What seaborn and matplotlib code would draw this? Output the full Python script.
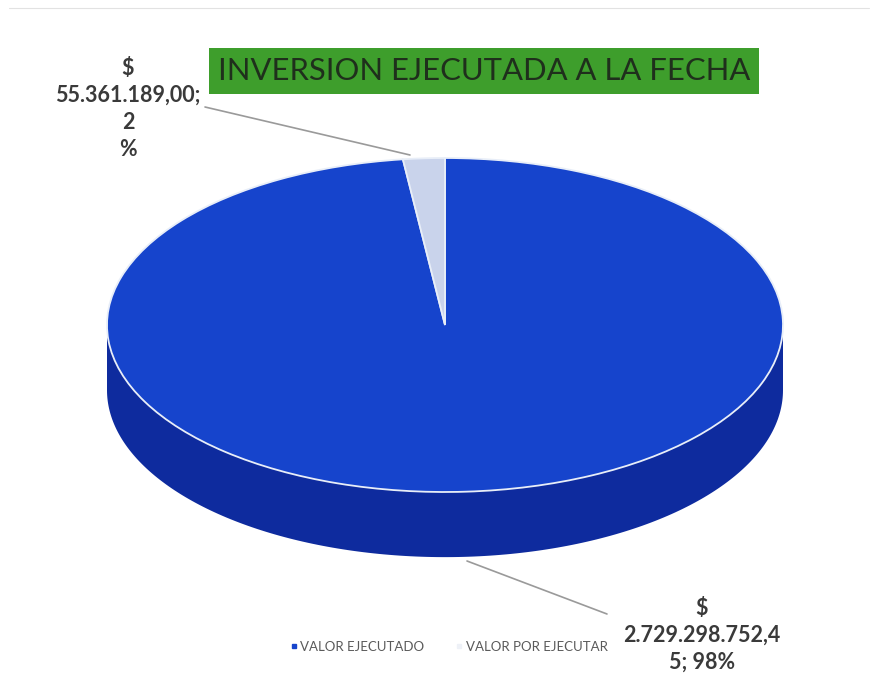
import numpy as np
import matplotlib
matplotlib.use('Agg')
import matplotlib.pyplot as plt
import seaborn as sns

categories = ['VALOR EJECUTADO', 'VALOR POR EJECUTAR']
values = [2729298752.45, 55361189.00]
percents = ['98%', '2%']
label_text = ['$\n2.729.298.752,4\n5; 98%', '$\n55.361.189,00;\n2\n%']
title = 'INVERSION EJECUTADA A LA FECHA'

top_colors = ['#1644cc', '#c9d3eb']
side_color = '#0e2b9e'

sns.set_theme(style='white')
plt.rcParams['font.family'] = ['Lato', 'DejaVu Sans']

fig = plt.figure(figsize=(8.78, 6.78), dpi=100)
ax = fig.add_axes([0, 0, 1, 1])

# pie drawn as an ellipse: unit x = 338 px, unit y = 167 px
ax.set_xlim(-445 / 338, 433 / 338)
ax.set_ylim(-353 / 167, 325 / 167)

depth = 0.39
t = np.linspace(np.pi, 2 * np.pi, 200)
side_x = np.concatenate([np.cos(t), np.cos(t[::-1])])
side_y = np.concatenate([np.sin(t), np.sin(t[::-1]) - depth])
ax.fill(side_x, side_y, color=side_color, zorder=1, lw=0)

wedges, _ = ax.pie(values, colors=top_colors, startangle=90, counterclock=False,
                   wedgeprops=dict(edgecolor='#e8eef8', linewidth=1.3), frame=True)
for w in wedges:
    w.set_zorder(2)
ax.set_aspect('auto')
ax.set_xlim(-445 / 338, 433 / 338)
ax.set_ylim(-353 / 167, 325 / 167)
ax.axis('off')

# data labels with leader lines
lab_color = '#3a3a3a'
ax.text(-317 / 338, 216 / 167, label_text[1], ha='center', va='center', fontsize=15.5,
        fontweight='bold', color=lab_color, linespacing=1.35)
ax.plot([-240 / 338, -35 / 338], [218 / 167, 170 / 167], color='#9a9a9a', lw=1.2)

ax.text(257 / 338, -310 / 167, label_text[0], ha='center', va='center', fontsize=15.5,
        fontweight='bold', color=lab_color, linespacing=1.35)
ax.plot([22 / 338, 162 / 338], [-236 / 167, -289 / 167], color='#9a9a9a', lw=1.2)

fig.text(484 / 878, 1 - 71 / 678, title, ha='center', va='center', fontsize=22.3,
         color='#1f2f1c',
         bbox=dict(boxstyle='square,pad=0.3', facecolor='#3e9e2c', edgecolor='none'))

handles = [plt.Line2D([], [], marker='s', ls='', color=top_colors[0], markersize=2.5),
           plt.Line2D([], [], marker='s', ls='', color='#eef1f7', markersize=2.5)]
fig.legend(handles, categories, loc='center', bbox_to_anchor=(448 / 878, 31 / 678),
           ncol=2, frameon=False, fontsize=9.5, labelcolor='#5a5a5a',
           handletextpad=0.1, columnspacing=2.2, handlelength=0.8)

fig.add_artist(plt.Line2D([0.01, 0.99], [1 - 8 / 678, 1 - 8 / 678], color='#e2e2e2', lw=0.8))

fig.savefig('out.png', dpi=100, facecolor='white')
